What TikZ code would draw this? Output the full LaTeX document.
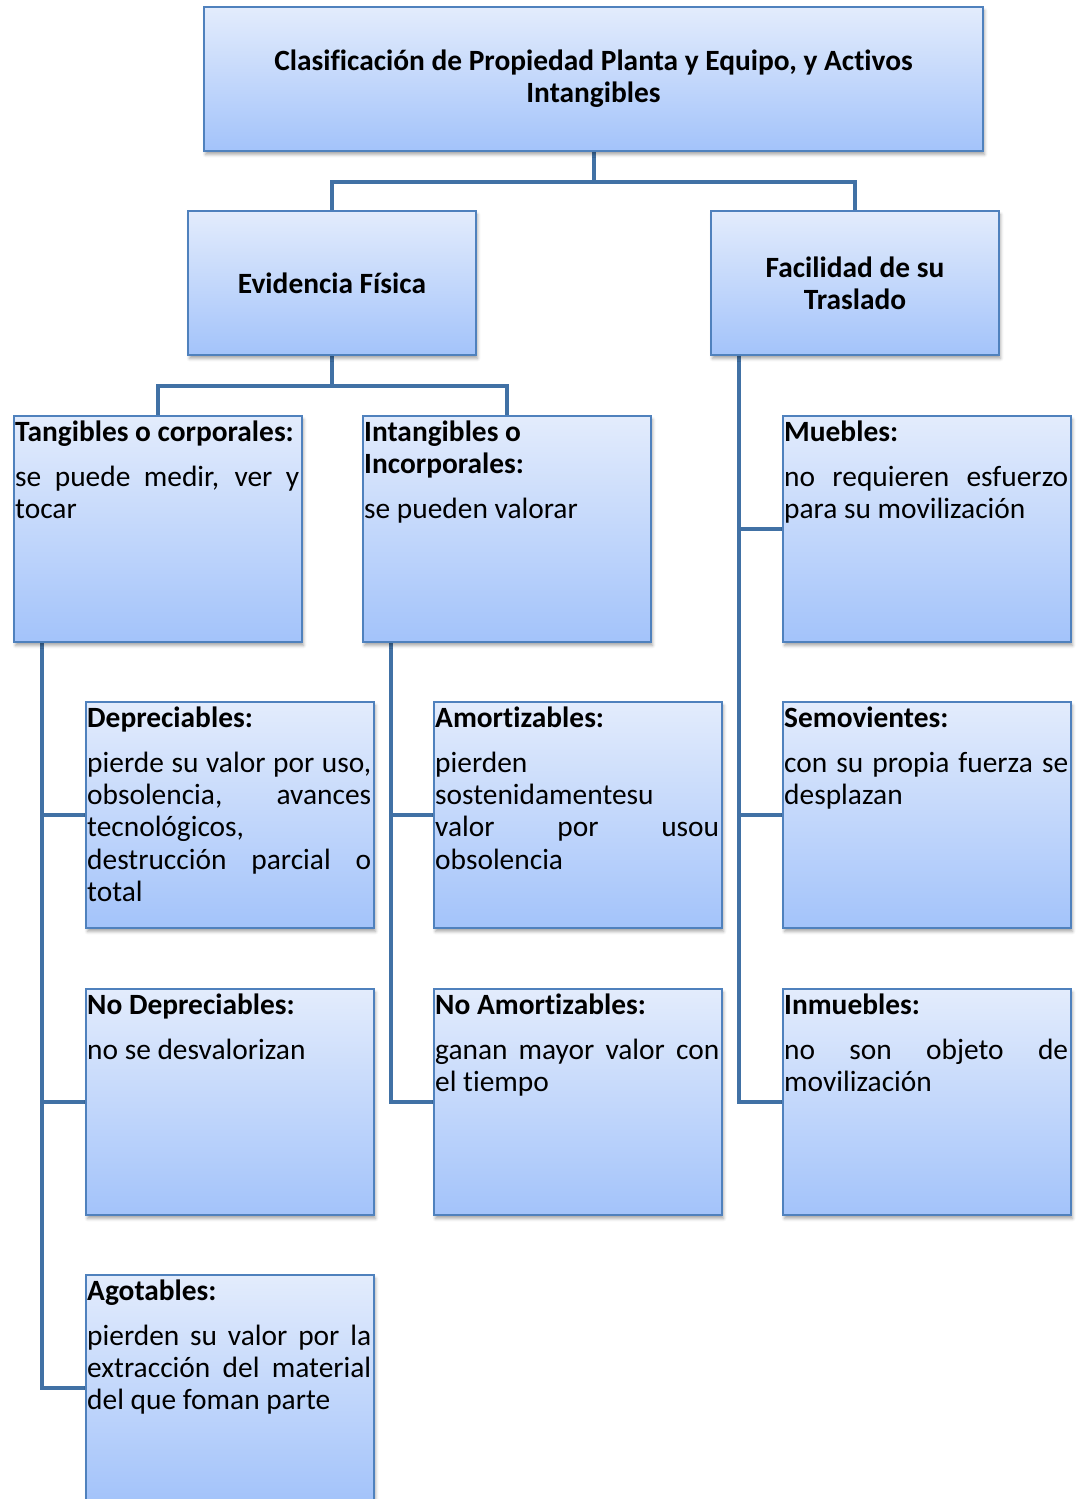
\documentclass[tikz,border=0pt]{standalone}
\usepackage{fontspec}
\setmainfont[Ligatures=NoCommon]{Carlito}
\usetikzlibrary{shadows.blur,backgrounds}

\definecolor{boxtop}{HTML}{E3ECFC}
\definecolor{boxbot}{HTML}{A3C3FA}
\definecolor{boxline}{HTML}{4F81BD}
\definecolor{linkcol}{HTML}{4171A5}

% text settings shared by every card
\newcommand\cardfont{\fontsize{29.4}{32.3}\selectfont\hyphenpenalty=10000 \exhyphenpenalty=10000 \tolerance=10000 \hbadness=10000 }
\newcommand\cardhead[1]{\rule{0pt}{24pt}\textbf{#1}\par\vspace{12.7pt}}

\tikzset{
  card/.style={draw=boxline, line width=2pt, top color=boxtop, bottom color=boxbot,
    minimum width=288pt, minimum height=226pt, anchor=north west, inner sep=0pt,
    blur shadow={shadow xshift=1.5pt, shadow yshift=-3.5pt, shadow blur radius=3pt, shadow opacity=35}},
  headcard/.style={card, minimum height=144pt, font=\fontsize{29.4}{32.3}\selectfont\bfseries, align=center},
  cardtext/.style={anchor=north west, inner sep=0pt, text width=284pt, align=justify, font=\cardfont},
  link/.style={draw=linkcol, line width=4pt},
}

\begin{document}
\begin{tikzpicture}[x=1pt, y=-1pt]
\useasboundingbox (0,0) rectangle (1077,1499);
\clip (0,0) rectangle (1077,1499);

% upper levels
\node[headcard, minimum width=779pt] (title) at (203,6)
  {Clasificación de Propiedad Planta y Equipo, y Activos\\Intangibles};
\node[headcard] (evid) at (187,210) {Evidencia Física};
\node[headcard] (facil) at (710,210) {Facilidad de su\\Traslado};

% second level
\node[card] (tang) at (13,415) {};
\node[card] (intang) at (362,415) {};
\node[card] (mueb) at (782,415) {};

% third level
\node[card] (dep) at (85,701) {};
\node[card] (amort) at (433,701) {};
\node[card] (semo) at (782,701) {};

% fourth level
\node[card] (nodep) at (85,988) {};
\node[card] (noamort) at (433,988) {};
\node[card] (inmu) at (782,988) {};

% fifth level
\node[card] (agot) at (85,1274) {};

% card texts
\node[cardtext] (tang-t) at ([shift={(2pt,-2pt)}]tang.north west)
  {\cardhead{Tangibles o corporales:}se puede medir, ver y\linebreak tocar};
\node[cardtext] (intang-t) at ([shift={(2pt,-2pt)}]intang.north west)
  {\rule{0pt}{24pt}\textbf{Intangibles o\newline Incorporales:}\par\vspace{12.7pt}se pueden valorar};
\node[cardtext] (mueb-t) at ([shift={(2pt,-2pt)}]mueb.north west)
  {\cardhead{Muebles:}no requieren esfuerzo\linebreak para su movilización};
\node[cardtext] (dep-t) at ([shift={(2pt,-2pt)}]dep.north west)
  {\cardhead{Depreciables:}pierde su valor por uso,\linebreak obsolencia, avances\linebreak tecnológicos,\newline destrucción parcial o\linebreak total};
\node[cardtext] (amort-t) at ([shift={(2pt,-2pt)}]amort.north west)
  {\cardhead{Amortizables:}pierden\newline sostenidamentesu\newline valor por usou\linebreak obsolencia};
\node[cardtext] (semo-t) at ([shift={(2pt,-2pt)}]semo.north west)
  {\cardhead{Semovientes:}con su propia fuerza se\linebreak desplazan};
\node[cardtext] (nodep-t) at ([shift={(2pt,-2pt)}]nodep.north west)
  {\cardhead{No Depreciables:}no se desvalorizan};
\node[cardtext] (noamort-t) at ([shift={(2pt,-2pt)}]noamort.north west)
  {\cardhead{No Amortizables:}ganan mayor valor con\linebreak el tiempo};
\node[cardtext] (inmu-t) at ([shift={(2pt,-2pt)}]inmu.north west)
  {\cardhead{Inmuebles:}no son objeto de\linebreak movilización};
\node[cardtext] (agot-t) at ([shift={(2pt,-2pt)}]agot.north west)
  {\cardhead{Agotables:}pierden su valor por la\linebreak extracción del material\linebreak del que foman parte};

% connectors
\begin{scope}[on background layer]
  \draw[link] (title.south) -- ++(0,30) -| (evid.north);
  \draw[link] (title.south) -- ++(0,30) -| (facil.north);
  \draw[link] (evid.south) -- ++(0,30) -| (tang.north);
  \draw[link] (evid.south) -- ++(0,30) -| (intang.north);
  \draw[link] ([xshift=29pt]facil.south west) |- (mueb.west);
  \draw[link] ([xshift=29pt]facil.south west) |- (semo.west);
  \draw[link] ([xshift=29pt]facil.south west) |- (inmu.west);
  \draw[link] ([xshift=29pt]tang.south west) |- (dep.west);
  \draw[link] ([xshift=29pt]tang.south west) |- (nodep.west);
  \draw[link] ([xshift=29pt]tang.south west) |- (agot.west);
  \draw[link] ([xshift=29pt]intang.south west) |- (amort.west);
  \draw[link] ([xshift=29pt]intang.south west) |- (noamort.west);
\end{scope}
\end{tikzpicture}
\end{document}
